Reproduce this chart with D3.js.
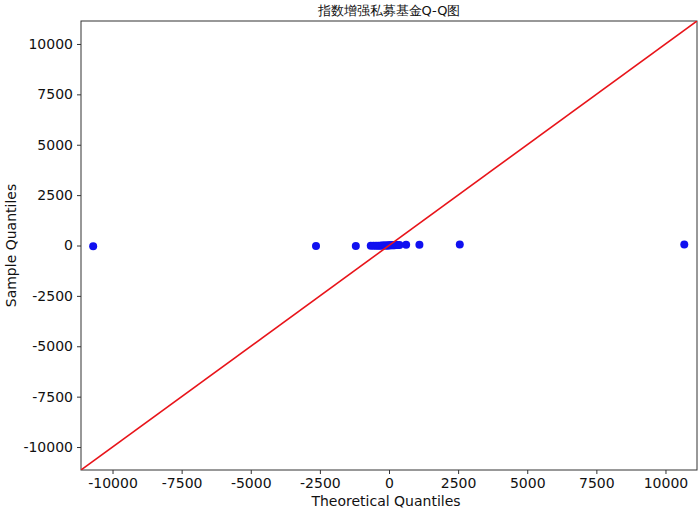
<!DOCTYPE html>
<html lang="zh">
<head>
  <meta charset="UTF-8">
  <title>指数增强私募基金Q-Q图</title>
  <script src="https://d3js.org/d3.v7.min.js"></script>
  <style>
    body { margin: 0; background: #fff; }
    text { font-family: "DejaVu Sans", sans-serif; }
  </style>
</head>
<body>
  <script>
    // theoretical vs sample quantiles
    var theoretical = [-10700, -2640, -1200, -660, -560, -470, -390, -320, -260, -200, -150,
      -100, -60, -20, 20, 60, 100, 150, 200, 250, 310, 380, 620, 1100, 2560, 10680];
    var sample = [-35, -28, -22, -18, -15, -13, -10, -8, -6, -4, -2,
      0, 2, 5, 8, 10, 12, 15, 18, 20, 24, 28, 35, 40, 45, 50];
    var xTicks = [-10000, -7500, -5000, -2500, 0, 2500, 5000, 7500, 10000];
    var yTicks = [-10000, -7500, -5000, -2500, 0, 2500, 5000, 7500, 10000];
    var lim = 11140;

    var w = 700, h = 511;
    var margin = { top: 21, right: 3, bottom: 41, left: 81 };
    var width = w - margin.left - margin.right;
    var height = h - margin.top - margin.bottom;

    var svg = d3.select("body").append("svg")
      .attr("width", w)
      .attr("height", h);

    var g = svg.append("g")
      .attr("transform", "translate(" + margin.left + "," + margin.top + ")");

    var x = d3.scaleLinear().domain([-lim, lim]).range([0, width]);
    var y = d3.scaleLinear().domain([-lim, lim]).range([height, 0]);

    var fmt = function (d) { return String(d); }; // plain hyphen minus, like the original

    // x axis
    var xAxis = g.append("g")
      .attr("transform", "translate(0," + height + ")")
      .call(d3.axisBottom(x).tickValues(xTicks).tickSize(4).tickPadding(4).tickFormat(fmt));
    // y axis
    var yAxis = g.append("g")
      .call(d3.axisLeft(y).tickValues(yTicks).tickSize(4).tickPadding(4).tickFormat(fmt));

    [xAxis, yAxis].forEach(function (a) {
      a.select(".domain").remove();
      a.selectAll("text").attr("font-size", 14).attr("fill", "#111")
        .attr("font-family", "DejaVu Sans, sans-serif");
      a.selectAll("line").attr("stroke", "#333");
    });

    // frame
    g.append("rect")
      .attr("width", width).attr("height", height)
      .attr("fill", "none").attr("stroke", "#333").attr("stroke-width", 1);

    g.append("clipPath").attr("id", "clip")
      .append("rect").attr("width", width).attr("height", height);

    var plot = g.append("g").attr("clip-path", "url(#clip)");

    // data points
    var pts = theoretical.map(function (t, i) { return [t, sample[i]]; });
    plot.selectAll(".dot")
      .data(pts)
      .enter().append("circle")
      .attr("class", "dot")
      .attr("cx", function (d) { return x(d[0]); })
      .attr("cy", function (d) { return y(d[1]); })
      .attr("r", 4)
      .attr("fill", "#1010f0");

    // 45 degree line
    plot.append("line")
      .attr("x1", x(-lim)).attr("y1", y(-lim))
      .attr("x2", x(lim)).attr("y2", y(lim))
      .attr("stroke", "#e8141a")
      .attr("stroke-width", 1.6);

    // title
    svg.append("text")
      .attr("x", margin.left + width / 2)
      .attr("y", 15)
      .attr("text-anchor", "middle")
      .attr("font-size", 13)
      .attr("font-weight", 500)
      .attr("font-family", "Noto Sans CJK SC, sans-serif")
      .attr("fill", "#111")
      .text("指数增强私募基金Q-Q图");

    // axis labels
    svg.append("text")
      .attr("x", margin.left + width / 2 - 3)
      .attr("y", 506)
      .attr("text-anchor", "middle")
      .attr("font-size", 14)
      .attr("fill", "#111")
      .text("Theoretical Quantiles");

    svg.append("text")
      .attr("transform", "translate(16," + (margin.top + height / 2) + ") rotate(-90)")
      .attr("text-anchor", "middle")
      .attr("font-size", 14)
      .attr("fill", "#111")
      .text("Sample Quantiles");
  </script>
</body>
</html>
